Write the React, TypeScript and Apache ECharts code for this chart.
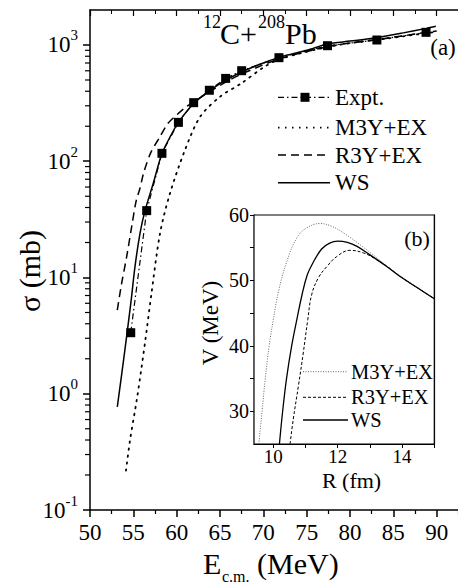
import React, { useEffect, useRef } from "react";
import * as echarts from "echarts";

const FONT = "'Liberation Serif', 'Times New Roman', Times, serif";

// Main panel (a): cross section vs E_c.m.
const exptE = [54.7, 56.54, 58.3, 60.2, 61.96, 63.77, 65.65, 67.5, 71.8, 77.4, 83.1, 88.77];
const exptS = [3.35, 37.6, 117, 216, 319, 408, 516, 601, 778, 986, 1104, 1285];

const wsE = [53.15, 54.0, 54.73, 55.19, 55.77, 56.35, 57.3, 58.31, 59.3, 60.2, 62, 64, 66, 68, 70, 72, 75, 77.4, 80, 83, 86, 88.8, 89.9];
const wsS = [0.77, 2.3, 6.2, 12.4, 24, 37.6, 64.7, 117, 165, 216, 315, 415, 515, 610, 700, 790, 900, 1020, 1080, 1155, 1265, 1390, 1450];

const r3yE = [53.15, 53.65, 54.23, 54.81, 55.31, 55.75, 56.2, 57.0, 58.08, 59.0, 60.0, 61, 62, 64, 66, 68, 72, 78, 84, 90];
const r3yS = [5.25, 8.9, 15.1, 27.4, 45, 58, 80, 118, 163, 212, 250, 290, 325, 405, 495, 585, 765, 985, 1140, 1320];

const m3yE = [54.15, 54.62, 55.39, 55.96, 56.54, 57.06, 58.08, 59.23, 60.96, 62.7, 65, 67.5, 70, 72, 78, 84, 90];
const m3yS = [0.218, 0.4, 0.88, 1.71, 3.53, 7, 24, 53, 125, 241, 359, 470, 640, 760, 980, 1130, 1300];

const minorDecades = [0.1, 1, 10, 100];
const minorMult = [2, 3, 4, 5, 6, 7, 8, 9];

// Inset panel (b): potential vs R
const wsR = [10.19, 10.29, 10.41, 10.57, 10.73, 10.9, 11.05, 11.2, 11.5, 11.75, 12.0, 12.3, 12.6, 13.0, 13.5, 14.0, 14.5, 15.0];
const wsV = [25, 30, 35, 40, 44, 48, 50.8, 52.4, 54.8, 55.7, 56.0, 55.8, 55.2, 53.9, 52.2, 50.4, 48.8, 47.2];

const m3yR = [9.55, 9.65, 9.75, 9.87, 10.0, 10.16, 10.42, 10.73, 11.03, 11.45, 11.8, 12.2, 12.6, 13.0, 13.5, 14.0, 14.5, 15.0];
const m3yV = [25, 30, 35, 40, 44, 48.3, 52.9, 56.5, 58, 58.7, 58.3, 57.2, 55.8, 54.3, 52.3, 50.4, 48.8, 47.2];

const r3yR = [10.52, 10.62, 10.78, 10.93, 11.07, 11.19, 11.4, 11.66, 11.97, 12.38, 12.8, 13.2, 13.6, 14.0, 14.5, 15.0];
const r3yV = [25, 28.8, 33.9, 38.9, 44, 47.8, 50.4, 52.1, 53.65, 54.6, 54.2, 53.2, 51.9, 50.4, 48.8, 47.2];

const xTicks = [10, 11, 12, 13, 14, 15];
const xLabels = [10, 12, 14];
const yTicks = [30, 35, 40, 45, 50, 55, 60];
const yLabels = [30, 40, 50, 60];

const zip = (a: number[], b: number[]) => a.map((v, i) => [v, b[i]]);

export default function App() {
  const ref = useRef<HTMLDivElement>(null);
  useEffect(() => {
    if (!ref.current) return;
    const chart = echarts.init(ref.current, null, { renderer: "svg" });
    const minorVals: number[][] = [];
    minorDecades.forEach((d) => minorMult.forEach((m) => minorVals.push([50, d * m])));
    const black = "#000";
    const txt = (text: string, x: number, y: number, size: number, extra: any = {}) => ({
      type: "text",
      x,
      y,
      silent: true,
      ...extra,
      style: {
        text,
        fontSize: size,
        fontFamily: FONT,
        fill: black,
        align: extra.align || "left",
        textAlign: extra.align || "left",
        verticalAlign: "middle",
        textVerticalAlign: "middle",
      },
    });
    const legLine = (x1: number, x2: number, y: number, dash: any, w: number, color = black) => ({
      type: "line",
      silent: true,
      shape: { x1, y1: y, x2, y2: y },
      style: { stroke: color, lineWidth: w, lineDash: dash },
    });
    const option: any = {
      animation: false,
      backgroundColor: "#fff",
      textStyle: { fontFamily: FONT },
      grid: [
        { left: 90, top: 10, right: 17.3, bottom: 74, show: false },
        { left: 254, top: 215, right: 45.7, bottom: 140, show: true, backgroundColor: "#fff", borderColor: black, borderWidth: 1.2, z: 10 },
      ],
      xAxis: [
        {
          type: "value", gridIndex: 0, position: "bottom", min: 50, max: 93, interval: 5,
          axisLine: { show: true, onZero: false, lineStyle: { color: black, width: 1.5 } },
          axisTick: { show: true, inside: false, length: 7, lineStyle: { color: black, width: 1.5 } },
          minorTick: { show: true, splitNumber: 2, length: 4, lineStyle: { color: black, width: 1.2 } },
          axisLabel: { show: true, showMaxLabel: false, fontSize: 23, fontFamily: FONT, color: black, margin: 11 },
          splitLine: { show: false },
        },
        {
          type: "value", gridIndex: 0, position: "top", min: 50, max: 93, interval: 5,
          axisLine: { show: true, onZero: false, lineStyle: { color: black, width: 1.5 } },
          axisTick: { show: true, inside: true, length: 6, lineStyle: { color: black, width: 1.2 } },
          minorTick: { show: true, splitNumber: 2, length: 4, lineStyle: { color: black, width: 1 } },
          axisLabel: { show: false },
          splitLine: { show: false },
        },
        {
          type: "value", gridIndex: 1, position: "bottom", min: 9.4, max: 15,
          axisLine: { show: true, onZero: false, lineStyle: { color: black, width: 1.2 } },
          axisTick: { show: true, inside: false, length: 4, customValues: xTicks, lineStyle: { color: black, width: 1 } },
          axisLabel: { show: true, customValues: xLabels, fontSize: 19, fontFamily: FONT, color: black, margin: 3 },
          splitLine: { show: false },
        },
        {
          type: "value", gridIndex: 1, position: "top", min: 9.4, max: 15,
          axisLine: { show: true, onZero: false, lineStyle: { color: black, width: 1.2 } },
          axisTick: { show: true, inside: true, length: 4, customValues: xTicks, lineStyle: { color: black, width: 1 } },
          axisLabel: { show: false },
          splitLine: { show: false },
        },
      ],
      yAxis: [
        {
          type: "log", gridIndex: 0, logBase: 10, min: 0.1, max: 2000,
          axisLine: { show: true, onZero: false, lineStyle: { color: black, width: 1.5 } },
          axisTick: { show: true, inside: false, length: 7, lineStyle: { color: black, width: 1.5 } },
          axisLabel: {
            show: true, margin: 12, showMaxLabel: false,
            formatter: (v: number) => {
              const l = Math.log10(v);
              const e = Math.round(l);
              if (Math.abs(l - e) > 1e-6) return "";
              return `{b|10}{s|${e}}`;
            },
            rich: {
              b: { fontSize: 23, fontFamily: FONT, color: black, lineHeight: 34 },
              s: { fontSize: 15, fontFamily: FONT, color: black, lineHeight: 15, verticalAlign: "top" },
            },
          },
          splitLine: { show: false },
        },
        {
          type: "value", gridIndex: 1, position: "left", min: 25, max: 60,
          axisLine: { show: true, onZero: false, lineStyle: { color: black, width: 1.2 } },
          axisTick: { show: true, inside: false, length: 4, customValues: yTicks, lineStyle: { color: black, width: 1 } },
          axisLabel: { show: true, customValues: yLabels, fontSize: 20, fontFamily: FONT, color: black, margin: 5 },
          splitLine: { show: false },
        },
        {
          type: "value", gridIndex: 1, position: "right", min: 25, max: 60,
          axisLine: { show: true, onZero: false, lineStyle: { color: black, width: 1.2 } },
          axisTick: { show: true, inside: true, length: 4, customValues: yTicks, lineStyle: { color: black, width: 1 } },
          axisLabel: { show: false },
          splitLine: { show: false },
        },
      ],
      series: [
        {
          type: "custom", xAxisIndex: 0, yAxisIndex: 0, data: minorVals, silent: true, clip: false,
          renderItem: (_p: any, api: any) => {
            const p = api.coord([api.value(0), api.value(1)]);
            return { type: "line", shape: { x1: p[0] - 5, y1: p[1], x2: p[0], y2: p[1] }, style: { stroke: black, lineWidth: 1.2 } };
          },
        },
        {
          name: "M3Y+EX", type: "line", xAxisIndex: 0, yAxisIndex: 0, data: zip(m3yE, m3yS), showSymbol: false, smooth: 0.3,
          lineStyle: { color: black, width: 1.8, type: [1.5, 5.5], cap: "round" },
        },
        {
          name: "R3Y+EX", type: "line", xAxisIndex: 0, yAxisIndex: 0, data: zip(r3yE, r3yS), showSymbol: false, smooth: 0.3,
          lineStyle: { color: black, width: 1.5, type: [8, 5] },
        },
        {
          name: "WS", type: "line", xAxisIndex: 0, yAxisIndex: 0, data: zip(wsE, wsS), showSymbol: false, smooth: 0.3,
          lineStyle: { color: black, width: 1.5 },
        },
        {
          name: "Expt.", type: "line", xAxisIndex: 0, yAxisIndex: 0, data: zip(exptE, exptS), symbol: "rect", symbolSize: 9,
          itemStyle: { color: black }, lineStyle: { color: black, width: 1.2, type: [6, 3, 1.5, 3] },
        },
        {
          type: "line", xAxisIndex: 2, yAxisIndex: 1, data: zip(m3yR, m3yV), showSymbol: false, smooth: 0.4, z: 11,
          lineStyle: { color: "#666", width: 1, type: [1, 1.5] },
        },
        {
          type: "line", xAxisIndex: 2, yAxisIndex: 1, data: zip(r3yR, r3yV), showSymbol: false, smooth: 0.4, z: 11,
          lineStyle: { color: black, width: 1, type: [3, 2] },
        },
        {
          type: "line", xAxisIndex: 2, yAxisIndex: 1, data: zip(wsR, wsV), showSymbol: false, smooth: 0.4, z: 11,
          lineStyle: { color: black, width: 1.3 },
        },
      ],
      graphic: [
        txt("12", 203, 21.5, 18),
        txt("C+", 220, 33, 30),
        txt("208", 258, 21.5, 18),
        txt("Pb", 285, 33, 30),
        txt("(a)", 443, 47, 23, { align: "center" }),
        legLine(278, 330, 97.3, [6, 3, 1.5, 3], 1.2),
        { type: "rect", silent: true, shape: { x: 300.5, y: 92.8, width: 9, height: 9 }, style: { fill: black } },
        txt("Expt.", 335, 97.3, 23),
        legLine(278, 330, 127.7, [1.5, 5.5], 1.8),
        txt("M3Y+EX", 335, 127.7, 23),
        legLine(278, 330, 155, [8, 5], 1.5),
        txt("R3Y+EX", 335, 155, 23),
        legLine(278, 330, 182.7, null, 1.5),
        txt("WS", 335, 182.7, 23),
        txt("\u03c3 (mb)", 29, 271, 30, { align: "center", rotation: Math.PI / 2 }),
        txt("E", 203, 563, 30),
        txt("c.m.", 222, 576.5, 16),
        txt("(MeV)", 257, 563, 30),
        txt("(b)", 417, 238, 22, { align: "center", z: 20 }),
        txt("V (MeV)", 210, 323, 23, { align: "center", rotation: Math.PI / 2 }),
        txt("R (fm)", 351.5, 480, 22, { align: "center" }),
        { ...legLine(303, 348, 371.7, [1, 1.5], 1, "#666"), z: 20 },
        txt("M3Y+EX", 351, 371.7, 20.5, { z: 20 }),
        { ...legLine(303, 348, 397.3, [3, 2], 1), z: 20 },
        txt("R3Y+EX", 351, 397.3, 20.5, { z: 20 }),
        { ...legLine(303, 348, 420, null, 1.3), z: 20 },
        txt("WS", 351, 420, 20.5, { z: 20 }),
      ],
    };
    chart.setOption(option);
    return () => chart.dispose();
  }, []);
  return (
    <div style={{ position: "fixed", left: 0, top: 0, width: 458, height: 584, overflow: "hidden", background: "#fff" }}>
      <div ref={ref} style={{ width: 480, height: 584 }} />
    </div>
  );
}
